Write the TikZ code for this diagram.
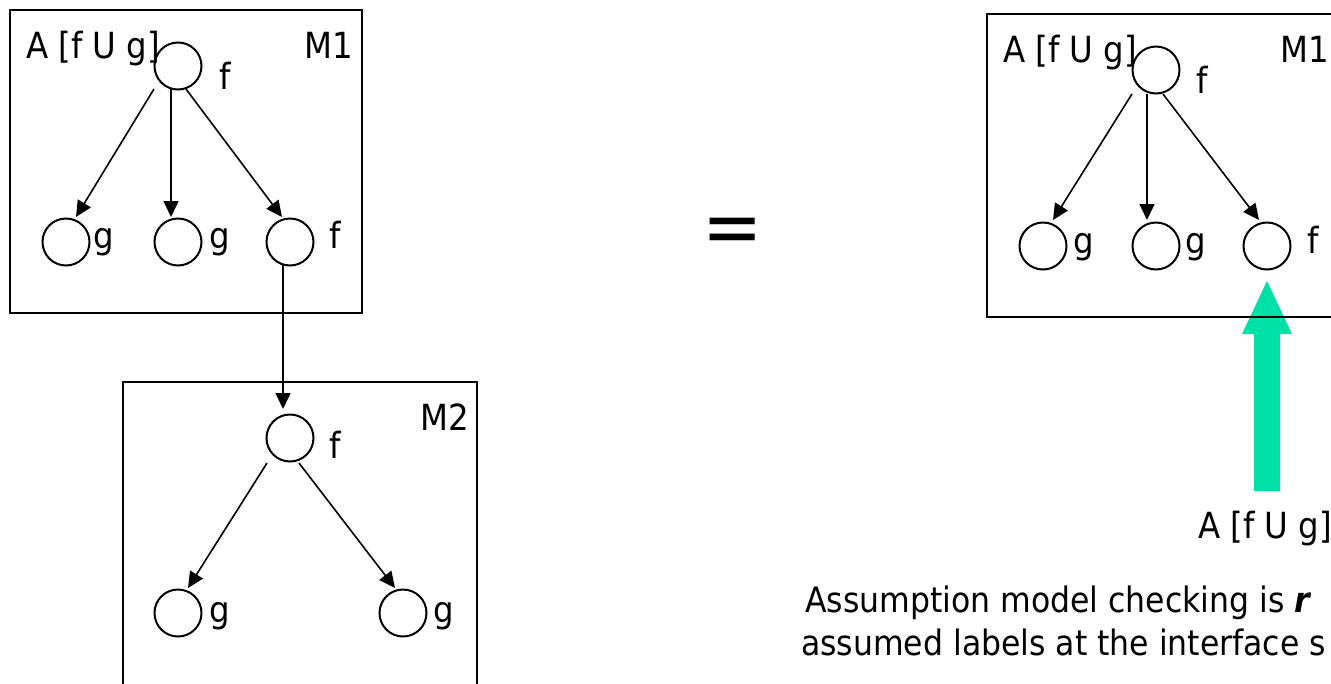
\documentclass[tikz,border=0pt]{standalone}
\usepackage{fontspec}
\setmainfont{DejaVu Sans Condensed}
\usetikzlibrary{arrows.meta,calc}
\definecolor{mint}{RGB}{0,225,168}
\begin{document}
\begin{tikzpicture}[x=1pt,y=-1pt,
  state/.style={circle,draw,line width=2pt,minimum size=47pt,inner sep=0pt},
  box/.style={draw,line width=2.2pt},
  arr/.style={line width=1.6pt,-{Triangle[length=16pt,width=15pt]}},
  lbl/.style={inner sep=0pt,font=\fontsize{36}{42}\selectfont},
  note/.style={inner sep=0pt,font=\fontsize{35}{42}\selectfont},
]
\clip (0,0) rectangle (1331,683);
\fill[white] (0,0) rectangle (1331,683);

% ---------- left M1 ----------
\draw[box] (10,10) rectangle (362,313);
\node[lbl,anchor=base west] (la) at (26,58) {A [f U g]};
\node[lbl,anchor=base east] (lm1) at (353,58) {M1};
\node[state] (t1) at (178,66) {};
\node[state] (b1) at (66,242) {};
\node[state] (b2) at (178,242) {};
\node[state] (b3) at (290,242) {};
\node[lbl,anchor=base] (lt1) at (225,89) {f};
\node[lbl,anchor=base] (lb1) at (104,248) {g};
\node[lbl,anchor=base] (lb2) at (220,248) {g};
\node[lbl,anchor=base] (lb3) at (335,248) {f};
\draw[arr] ($(t1)+(-24,23)$) -- ($(b1)+(10,-25)$);
\draw[arr] ($(t1)+(-7,23)$) -- ($(b2)+(-7,-25)$);
\draw[arr] ($(t1)+(8,23)$) -- ($(b3)+(-8,-25)$);

% ---------- M2 ----------
\draw[box] (123,382) rectangle (477,700);
\node[lbl,anchor=base east] (lm2) at (469,430) {M2};
\node[state] (m2t) at (290,438) {};
\node[state] (m2l) at (178,613) {};
\node[state] (m2r) at (403,613) {};
\node[lbl,anchor=base] (lm2t) at (335,458) {f};
\node[lbl,anchor=base] (lm2l) at (220,622) {g};
\node[lbl,anchor=base] (lm2r) at (444,622) {g};
\draw[arr] ($(b3)+(-7,23)$) -- ($(m2t)+(-7,-29)$);
\draw[arr] ($(m2t)+(-23,25)$) -- ($(m2l)+(10,-25)$);
\draw[arr] ($(m2t)+(9,25)$) -- ($(m2r)+(-8,-25)$);

% ---------- equals ----------
\node[inner sep=0pt,anchor=base,font=\fontsize{80}{90}\selectfont] (eq) at (733,254) {=};

% ---------- right M1 ----------
\fill[mint] (1267,281) -- (1292,334) -- (1280,334) -- (1280,491) -- (1254,491) -- (1254,334) -- (1242,334) -- cycle;
\draw[box] (987,14) rectangle (1345,317);
\node[lbl,anchor=base west] (ra) at (1003,62) {A [f U g]};
\node[lbl,anchor=base west] (rm1) at (1280,62) {M1};
\node[state] (rt) at (1156,70) {};
\node[state] (rb1) at (1043,246) {};
\node[state] (rb2) at (1156,246) {};
\node[state] (rb3) at (1267,246) {};
\node[lbl,anchor=base] (rlt) at (1202,93) {f};
\node[lbl,anchor=base] (rlb1) at (1084,253) {g};
\node[lbl,anchor=base] (rlb2) at (1196,253) {g};
\node[lbl,anchor=base] (rlb3) at (1313,253) {f};
\draw[arr] ($(rt)+(-24,24)$) -- ($(rb1)+(10,-26)$);
\draw[arr] ($(rt)+(-9,24)$) -- ($(rb2)+(-9,-26)$);
\draw[arr] ($(rt)+(7,24)$) -- ($(rb3)+(-8,-26)$);

\node[lbl,anchor=base west] (ass) at (1198,538) {A [f U g]};
\node[note,anchor=base west] (txt1) at (805,612) {Assumption model checking is \textbf{\textit{r}}};
\node[note,anchor=base west] (txt2) at (801,655) {assumed labels at the interface s};
\end{tikzpicture}
\end{document}
